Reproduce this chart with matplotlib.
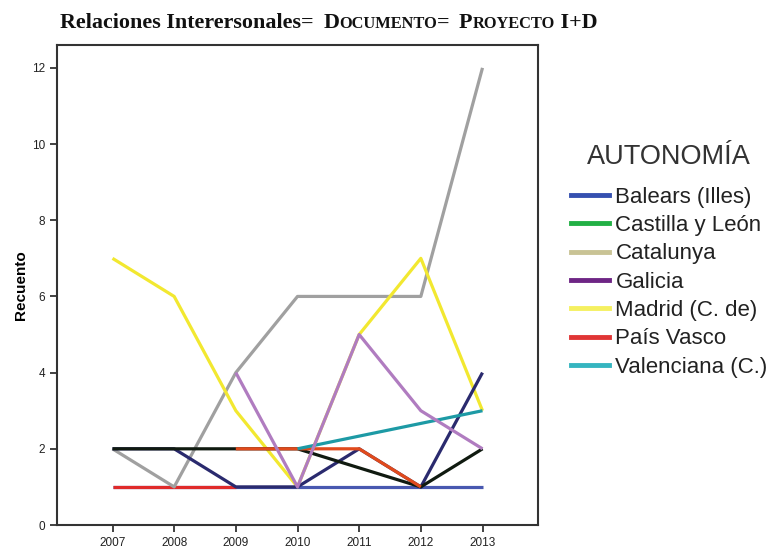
import numpy as np
import matplotlib.pyplot as plt
from matplotlib.lines import Line2D

# años y recuentos (nan = sin dato)
years = [2007, 2008, 2009, 2010, 2011, 2012, 2013]
nan = np.nan
blue_vals     = [1, 1, 1, 1, 1, 1, 1]
red_vals      = [1, 1, 1, nan, nan, nan, nan]
gray_vals     = [2, 1, 4, 6, 6, 6, 12]
yellow_vals   = [7, 6, 3, 1, 5, 7, 3]
navy_vals     = [2, 2, 1, 1, 2, 1, 4]
black_vals    = [2, 2, 2, 2, nan, 1, 2]
orange_vals   = [nan, nan, 2, 2, 2, 1, nan]
teal_vals     = [nan, nan, nan, 2, nan, nan, 3]
lavender_vals = [nan, nan, 4, 1, 5, 3, 2]

legend_labels = ['Balears (Illes)', 'Castilla y León', 'Catalunya', 'Galicia',
                 'Madrid (C. de)', 'País Vasco', 'Valenciana (C.)']
legend_colors = ['#3550b0', '#22b045', '#c9c395', '#6e2585',
                 '#f5f060', '#e03535', '#35b5c0']

yticks = [0, 2, 4, 6, 8, 10, 12]

plt.rcParams['font.family'] = ['Liberation Sans', 'DejaVu Sans']

fig = plt.figure(figsize=(7.73, 5.5), dpi=100)
ax = fig.add_axes([57/773, 25/550, (538-57)/773, (525-45)/550])

series = [(blue_vals, '#4858b0'), (red_vals, '#e02a2a'), (gray_vals, '#a0a0a0'),
          (yellow_vals, '#f2e830'), (navy_vals, '#2a2a6e'), (black_vals, '#101a10'),
          (orange_vals, '#e04a1c'), (teal_vals, '#1d9aa5'), (lavender_vals, '#b07cc0')]
for vals, col in series:
    v = np.array(vals, dtype=float)
    m = ~np.isnan(v)
    ax.plot(np.array(years)[m], v[m], color=col, lw=2.3, solid_capstyle='butt')

ax.set_xlim(2006.1, 2013.9)
ax.set_ylim(0, 12.6)
ax.set_xticks(years)
ax.set_yticks(yticks)
ax.tick_params(direction='out', length=5, width=1.2, labelsize=8.5, colors='#222222')
for s in ax.spines.values():
    s.set_linewidth(1.5)
    s.set_color('#333333')
ax.set_ylabel('Recuento', fontsize=11, fontweight='bold', labelpad=3)

handles = [Line2D([], [], color=c, lw=3.5) for c in legend_colors]
leg = fig.legend(handles, legend_labels, loc='upper left', bbox_to_anchor=(571/773, 1 - 144/550),
                 frameon=False, fontsize=16, title='AUTONOMÍA', title_fontsize=19.5,
                 handlelength=1.7, handletextpad=0.3, labelspacing=0.33, borderpad=0,
                 borderaxespad=0)
for t in leg.get_texts():
    t.set_color('#222222')
leg.get_title().set_color('#333333')
leg._legend_box.sep = 12

# titulo con versalitas simuladas
parts = [('Relaciones Interersonales= ', 15.8), ('D', 15.8), ('OCUMENTO', 11.8),
         ('= ', 15.8), ('P', 15.8), ('ROYECTO', 11.8), (' I+D', 15.8)]
renderer = fig.canvas.get_renderer()
x = 60
for txt, size in parts:
    t = fig.text(x / 773, 1 - 28 / 550, txt, fontsize=size, family='Liberation Serif',
                 fontweight='bold', va='baseline', ha='left', color='#111111')
    bb = t.get_window_extent(renderer)
    x = bb.x1 + (4 if txt.endswith(' ') else 0)

plt.savefig('out.png', dpi=100)
